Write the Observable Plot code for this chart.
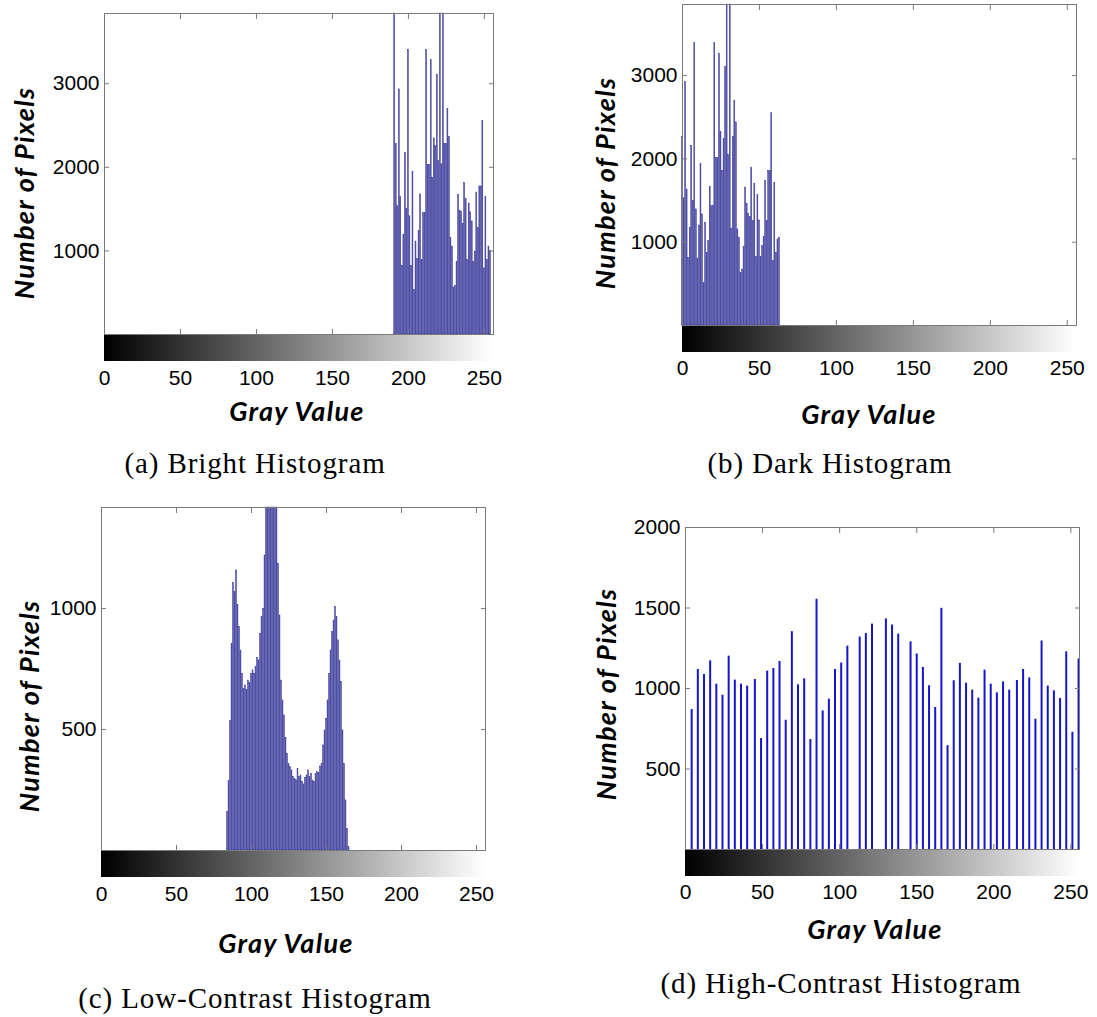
<!DOCTYPE html>
<html><head><meta charset="utf-8">
<script src="https://cdn.jsdelivr.net/npm/d3@7"></script>
<script src="https://cdn.jsdelivr.net/npm/@observablehq/plot@0.6"></script>
<style>
html,body{margin:0;padding:0;background:#fff;}
body{width:1097px;height:1017px;position:relative;overflow:hidden;}
.lbl{position:absolute;white-space:nowrap;font-family:Lato,"Open Sans",sans-serif;font-weight:bold;font-style:italic;font-size:27px;color:#000;line-height:1;letter-spacing:1.3px;}
.ylab{transform:translate(-50%,-50%) rotate(-90deg);}
.xlab{transform:translate(-50%,-50%);}
.cap{position:absolute;white-space:nowrap;font-family:"Liberation Serif","DejaVu Serif",serif;font-size:29px;color:#000;line-height:1;transform:translate(-50%,-50%);letter-spacing:0.9px;}
svg{position:absolute;}
</style></head><body>
<script>
// ---------- data ----------
const xTicks = [0, 50, 100, 150, 200, 250];

// (a) Bright histogram: consecutive gray levels starting at brightStart
const brightStart = 191;
const brightCounts = [3900, 2277, 1534, 2932, 1647, 823, 1193, 2169, 1506, 3402, 1414, 819, 1944, 530, 1112, 900, 1241, 1675, 892, 1454, 1454, 3402, 2028, 2028, 3281, 1875, 2345, 2257, 3108, 2076, 3900, 2036, 3900, 2277, 2277, 2699, 2361, 1153, 1052, 562, 578, 867, 1667, 1482, 1466, 1325, 1811, 1618, 892, 1566, 1462, 1353, 872, 992, 1699, 1273, 1771, 1771, 2558, 791, 1647, 892, 1052, 1000];
const brightYTicks = [1000, 2000, 3000];

// (b) Dark histogram
const darkStart = 0;
const darkCounts = [2265, 1526, 2920, 1631, 811, 1173, 2157, 1494, 3394, 1394, 803, 1200, 1936, 1333, 510, 1233, 871, 1012, 1663, 1434, 1434, 3390, 2008, 2008, 3261, 2325, 1855, 2237, 3100, 3900, 2048, 3900, 1165, 2265, 2699, 2438, 1153, 1052, 631, 671, 944, 1655, 1462, 1341, 1301, 1896, 1253, 1703, 819, 1566, 1261, 819, 952, 1060, 1735, 1253, 1855, 1855, 2550, 771, 1715, 871, 1032, 1050];
const darkYTicks = [1000, 2000, 3000];

// (c) Low-contrast histogram
const lowStart = 84;
const lowCounts = [158, 287, 534, 854, 1105, 1067, 1157, 1015, 923, 826, 730, 668, 682, 664, 702, 691, 730, 744, 730, 758, 795, 785, 895, 964, 999, 1219, 1500, 1650, 1800, 1900, 1850, 1700, 1600, 1480, 1185, 971, 702, 620, 558, 466, 399, 358, 344, 331, 303, 296, 290, 337, 303, 310, 282, 273, 300, 310, 331, 303, 317, 289, 282, 317, 324, 320, 347, 358, 434, 496, 544, 620, 730, 826, 902, 950, 1006, 964, 868, 785, 696, 496, 358, 207, 90, 14];
const lowYTicks = [500, 1000];

// (d) High-contrast histogram
const highGray = [4, 8, 12, 16, 20, 24, 28, 32, 36, 40, 45, 49, 53, 57, 61, 65, 69, 73, 77, 81, 85, 89, 93, 97, 101, 105, 113, 117, 121, 130, 134, 138, 146, 150, 154, 158, 162, 166, 170, 174, 178, 182, 186, 190, 194, 198, 202, 206, 210, 215, 219, 223, 227, 231, 235, 239, 243, 247, 251, 255];
const highCounts = [869, 1118, 1087, 1172, 1027, 958, 1201, 1052, 1027, 1015, 1056, 689, 1108, 1124, 1168, 803, 1353, 1023, 1060, 683, 1554, 861, 934, 1118, 1158, 1263, 1320, 1342, 1400, 1432, 1394, 1338, 1290, 1214, 1131, 1017, 882, 1498, 645, 1048, 1156, 1033, 990, 940, 1114, 1027, 973, 1041, 990, 1050, 1118, 1066, 809, 1295, 1015, 985, 938, 1228, 728, 1183];
const highYTicks = [500, 1000, 1500, 2000];

// gray ramp of the colour strip under each histogram
const grayLevels = d3.range(256);

// ---------- drawing ----------
const tickStroke = "#7a7a7a";
const svgStyle = {fontFamily: "'Liberation Sans', Arial, sans-serif", fontSize: "21px", color: "#000", background: "none", overflow: "visible"};
const numFmt = d => String(d);

function seqData(start, counts) { return counts.map((v, i) => ({g: start + i, v})); }

function histBars(data) {
  return Plot.rect(data, {x1: d => d.g - 0.3, x2: d => d.g + 0.3, y1: 0, y2: "v",
    fill: "#6a6ab2", stroke: "#1e1e8c", strokeWidth: 0.45});
}

function drawPanel(cfg) {
  const {frameL, frameR, frameT, zeroY, stripB, xDomain, yMax, yTicks, marks, labelPad} = cfg;
  const mL = 70, mR = 10, mT = 3, mB = 1;
  const w = frameR - frameL + mL + mR;
  const h = zeroY - frameT + mT + mB;
  const hist = Plot.plot({
    width: w, height: h, marginLeft: mL, marginRight: mR, marginTop: mT, marginBottom: mB,
    style: svgStyle,
    x: {domain: xDomain, axis: null},
    y: {domain: [0, yMax], clamp: true, axis: null, label: null},
    marks: [
      ...marks,
      Plot.frame({stroke: tickStroke}),
      Plot.axisY(yTicks, {anchor: "left", tickSize: 0, tickPadding: 5, tickFormat: numFmt, label: null}),
      Plot.axisY(yTicks, {anchor: "left", tickSize: -5, tickFormat: () => "", label: null, stroke: tickStroke}),
      Plot.axisY(yTicks, {anchor: "right", tickSize: -5, tickFormat: () => "", label: null, stroke: tickStroke}),
      Plot.axisX(xTicks, {anchor: "top", tickSize: -5, tickFormat: () => "", label: null, stroke: tickStroke}),
      Plot.axisX(xTicks, {anchor: "bottom", tickSize: -5, tickFormat: () => "", label: null, stroke: tickStroke})
    ]
  });
  hist.style.left = (frameL - mL) + "px";
  hist.style.top = (frameT - mT) + "px";
  document.body.appendChild(hist);

  const sH = stripB - zeroY - 1;
  const strip = Plot.plot({
    width: w, height: sH + 50, marginLeft: mL, marginRight: mR, marginTop: 0, marginBottom: 50,
    style: svgStyle,
    x: {domain: xDomain, axis: null},
    y: {domain: [0, 1], axis: null},
    color: {type: "linear", domain: [0, 255], range: ["#000", "#fff"]},
    marks: [
      Plot.rect(grayLevels, {x1: d => d, x2: d => d + 1, y1: 0, y2: 1, fill: d => d, shapeRendering: "crispEdges"}),
      Plot.axisX(xTicks, {anchor: "bottom", tickSize: 0, tickPadding: labelPad, tickFormat: numFmt, label: null})
    ]
  });
  strip.style.left = (frameL - mL) + "px";
  strip.style.top = (zeroY + 1) + "px";
  document.body.appendChild(strip);
}

drawPanel({frameL: 104, frameR: 493, frameT: 13, zeroY: 334, stripB: 361, xDomain: [0, 256], yMax: 3840,
  yTicks: brightYTicks, labelPad: 9, marks: [histBars(seqData(brightStart, brightCounts))]});
drawPanel({frameL: 682, frameR: 1076, frameT: 4, zeroY: 325, stripB: 352, xDomain: [0, 256], yMax: 3853,
  yTicks: darkYTicks, labelPad: 8, marks: [histBars(seqData(darkStart, darkCounts))]});
drawPanel({frameL: 101, frameR: 485, frameT: 507, zeroY: 850, stripB: 877, xDomain: [0, 256], yMax: 1417,
  yTicks: lowYTicks, labelPad: 9, marks: [histBars(seqData(lowStart, lowCounts))]});
const highData = highGray.map((g, i) => ({g, v: highCounts[i]}));
drawPanel({frameL: 685, frameR: 1079, frameT: 527, zeroY: 849, stripB: 876, xDomain: [0, 255.6], yMax: 2000,
  yTicks: highYTicks, labelPad: 8, marks: [Plot.ruleX(highData, {x: "g", y1: 0, y2: "v", stroke: "#1616c8", strokeWidth: 2})]});

// ---------- texts ----------
function addText(cls, txt, x, y) {
  const d = document.createElement("div");
  d.className = cls; d.textContent = txt;
  d.style.left = x + "px"; d.style.top = y + "px";
  document.body.appendChild(d);
}
const yTitle = "Number of Pixels", xTitle = "Gray Value";
addText("lbl ylab", yTitle, 23, 193);
addText("lbl xlab", xTitle, 297, 410);
addText("cap", "(a) Bright Histogram", 255, 463);
addText("lbl ylab", yTitle, 604, 183);
addText("lbl xlab", xTitle, 869, 413);
addText("cap", "(b) Dark Histogram", 830, 463);
addText("lbl ylab", yTitle, 28, 706);
addText("lbl xlab", xTitle, 286, 942);
addText("cap", "(c) Low-Contrast Histogram", 255, 998);
addText("lbl ylab", yTitle, 605, 694);
addText("lbl xlab", xTitle, 875, 928);
addText("cap", "(d) High-Contrast Histogram", 841, 983);
</script>
</body></html>
